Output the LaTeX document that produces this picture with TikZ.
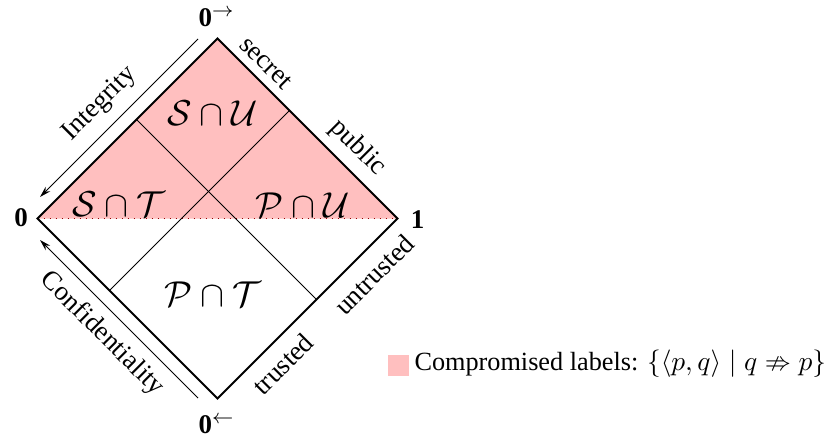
\documentclass[tikz,border=0pt]{standalone}
\usepackage{amssymb}
\usepackage{fontspec}
\setmainfont{Liberation Serif}
\usetikzlibrary{calc,arrows.meta}
\begin{document}
\begin{tikzpicture}[x=0.4pt,y=-0.4pt,
  border/.style={line width=0.8pt},
  divider/.style={line width=0.4pt},
  axisarrow/.style={line width=0.4pt,-{Stealth[length=4.5pt,width=2.6pt]}},
  edgelabel/.style={inner sep=0pt,font=\fontsize{10.8}{13}\selectfont},
  region/.style={inner sep=0pt,font=\fontsize{13.5}{16}\selectfont},
  corner/.style={inner sep=0pt,anchor=base,font=\fontsize{10.8}{13}\selectfont},
  legendtext/.style={inner sep=0pt,anchor=base west,font=\fontsize{10.5}{13}\selectfont}]
\useasboundingbox (0,0) rectangle (830,440);
\coordinate (T) at (217.5,38.5);
\coordinate (L) at (37.5,218.5);
\coordinate (R) at (397.5,218.5);
\coordinate (B) at (217.5,398.5);
\fill[red!25] (L) -- (T) -- (R) -- cycle;
\draw[dotted, red!60!black, line width=0.4pt] (L) -- (R);
\coordinate (s1) at ($(B)!0.6!(L)$);
\coordinate (s2) at ($(R)!0.6!(T)$);
\coordinate (t1) at ($(B)!0.55!(R)$);
\coordinate (t2) at ($(L)!0.55!(T)$);
\draw[divider] (s1) -- (s2);
\draw[divider] (t1) -- (t2);
\draw[border, line join=miter] (L) -- (T) -- (R) -- (B) -- cycle;
% axis arrows
\coordinate (ia1) at (198,39);
\coordinate (ia2) at (40,197);
\coordinate (ca1) at (198,398);
\coordinate (ca2) at (40,240);
\draw[axisarrow] (ia1) -- (ia2);
\draw[axisarrow] (ca1) -- (ca2);
\node[edgelabel, rotate=45] (integ) at (100,104) {Integrity};
\node[edgelabel, rotate=-45] (conf) at (102,334) {Confidentiality};
\node[edgelabel, rotate=-45] (sec) at (266,63) {secret};
\node[edgelabel, rotate=-45] (pub) at (357.5,148) {public};
\node[edgelabel, rotate=45] (tru) at (283,364) {trusted};
\node[edgelabel, rotate=45] (untru) at (374,274.5) {untrusted};
% corners
\node[corner] (c0l) at (21,226.7) {$\mathbf{0}$};
\node[corner] (c1r) at (417.5,228) {$\mathbf{1}$};
\node[corner] (c0t) at (216.5,26.7) {$\mathbf{0}^{\rightarrow}$};
\node[corner] (c0b) at (216.5,433) {$\mathbf{0}^{\leftarrow}$};
% regions
\node[region] (su) at (212.5,113) {$\mathcal{S}\cap\mathcal{U}$};
\node[region] (st) at (119,204) {$\mathcal{S}\cap\mathcal{T}$};
\node[region] (pu) at (303,205) {$\mathcal{P}\cap\mathcal{U}$};
\node[region] (pt) at (213,294) {$\mathcal{P}\cap\mathcal{T}$};
% legend
\node[fill=red!25, inner sep=0pt, minimum size=8.4pt] (key) at (398,365) {};
\node[legendtext] (keytext) at (414,370) {Compromised labels: $\{\langle p,q\rangle \mid q \nRightarrow p\}$};
\end{tikzpicture}
\end{document}
